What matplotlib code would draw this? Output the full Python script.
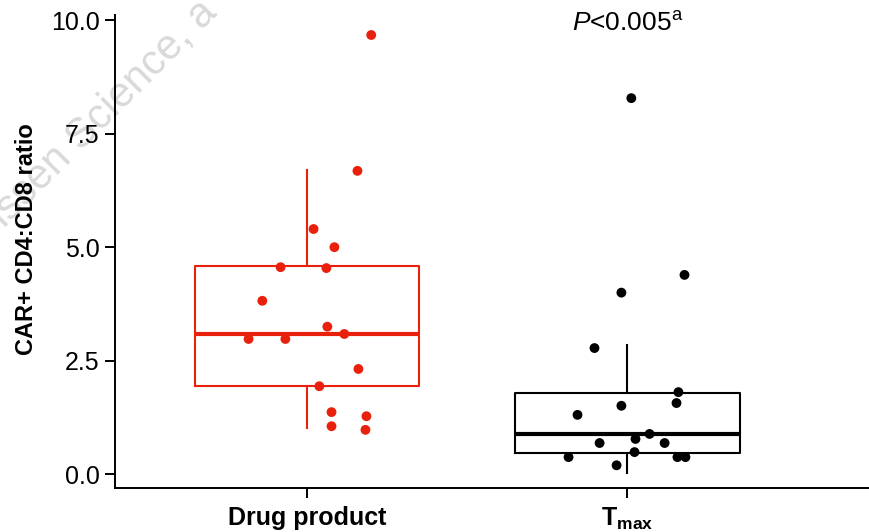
import matplotlib
matplotlib.use("Agg")
import matplotlib.pyplot as plt

plt.rcParams['font.family'] = 'Liberation Sans'
plt.rcParams['mathtext.fontset'] = 'custom'
plt.rcParams['mathtext.rm'] = 'Liberation Sans'
plt.rcParams['mathtext.it'] = 'Liberation Sans:italic'
plt.rcParams['mathtext.bf'] = 'Liberation Sans:bold'

# data
groups = ['Drug product', r'$\mathbf{T_{max}}$']
colors = ['#E8200C', '#000000']

drug_vals = [9.67, 6.68, 5.40, 5.00, 4.56, 4.54, 3.82, 3.25, 3.09, 2.98, 2.98,
             2.32, 1.94, 1.37, 1.28, 1.06, 0.98]
drug_jit = [0.20, 0.157, 0.020, 0.085, -0.083, 0.060, -0.140, 0.063, 0.116,
            -0.183, -0.068, 0.160, 0.038, 0.076, 0.185, 0.076, 0.182]

tmax_vals = [8.28, 4.39, 4.00, 2.78, 1.81, 1.57, 1.51, 1.31, 0.89, 0.78, 0.69,
             0.69, 0.49, 0.38, 0.38, 0.38, 0.20]
tmax_jit = [0.012, 0.178, -0.019, -0.103, 0.159, 0.153, -0.019, -0.156, 0.069,
            0.025, -0.087, 0.116, 0.022, -0.184, 0.156, 0.181, -0.034]

# box stats: whislo, q1, med, q3, whishi
drug_box = [1.02, 1.95, 3.09, 4.59, 6.70]
tmax_box = [0.03, 0.48, 0.89, 1.80, 2.84]

fig = plt.figure(figsize=(8.69, 5.32), dpi=100)
ax = fig.add_axes([0.1323, 0.0827, 0.8677, 0.8891])
ax.patch.set_visible(False)

# watermark
fig.text(-0.043, 0.494, 'Janssen Science, a', rotation=45, rotation_mode='anchor',
         ha='left', va='baseline', fontsize=30, color='#d9d9d9', zorder=-1)

for i, (box, vals, jit) in enumerate([(drug_box, drug_vals, drug_jit),
                                      (tmax_box, tmax_vals, tmax_jit)]):
    stats = [{'whislo': box[0], 'q1': box[1], 'med': box[2], 'q3': box[3],
              'whishi': box[4], 'fliers': []}]
    c = colors[i]
    ax.bxp(stats, positions=[i], widths=0.7, showcaps=False, showfliers=False,
           boxprops=dict(color=c, linewidth=1.5),
           whiskerprops=dict(color=c, linewidth=1.5),
           medianprops=dict(color=c, linewidth=3))
    ax.scatter([i + j for j in jit], vals, s=50, color=c, edgecolors='none', zorder=3)

ax.set_xlim(-0.60, 1.754)
ax.set_ylim(-0.30, 10.11)
ax.set_xticks([0, 1])
ax.set_xticklabels(groups, fontsize=18, fontweight='bold')
ax.set_yticks([0, 2.5, 5.0, 7.5, 10.0])
ax.set_yticklabels(['0.0', '2.5', '5.0', '7.5', '10.0'], fontsize=18)
ax.tick_params(axis='both', length=7, width=1.4)
ax.tick_params(axis='y', pad=4)
ax.tick_params(axis='x', pad=6)

for s in ['top', 'right']:
    ax.spines[s].set_visible(False)
for s in ['left', 'bottom']:
    ax.spines[s].set_linewidth(1.4)

ax.set_ylabel('CAR+ CD4:CD8 ratio', fontsize=17, fontweight='bold')
ax.yaxis.set_label_coords(-0.102, 0.526)

ax.text(1, 9.91, r'$\mathit{P}$<0.005$^{\mathrm{a}}$', fontsize=19,
        ha='center', va='center')

fig.savefig('out.png', dpi=100)
